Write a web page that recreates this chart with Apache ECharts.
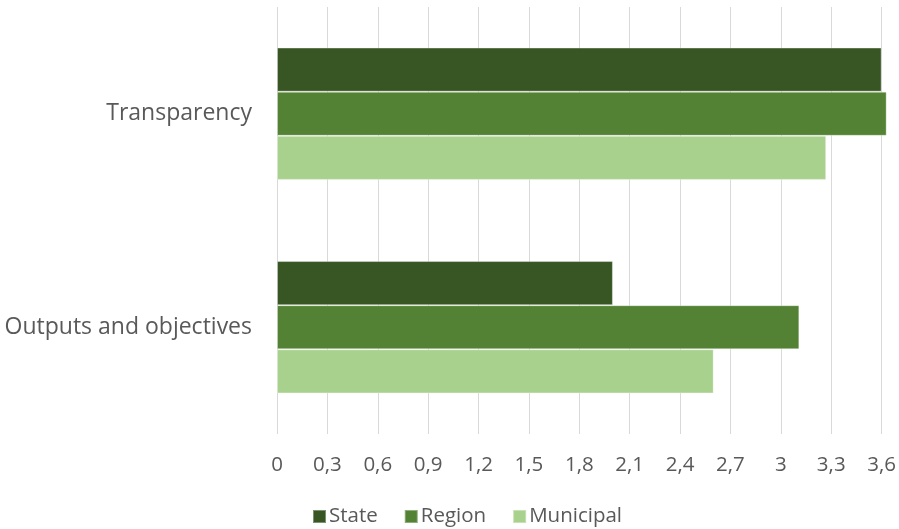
<!DOCTYPE html>
<html><head><meta charset="utf-8">
<script src="https://cdn.jsdelivr.net/npm/echarts@6/dist/echarts.min.js"></script>
<style>html,body{margin:0;padding:0;background:#fff}#c{width:899px;height:529px}</style>
</head><body><div id="c"></div>
<script>
const categories = ['Transparency', 'Outputs and objectives'];
const seriesNames = ['State', 'Region', 'Municipal'];
const stateValues = [3.6, 2.0];
const regionValues = [3.63, 3.11];
const municipalValues = [3.27, 2.6];
const colors = ['#375623', '#548235', '#A9D18E'];
const FONT = 'Open Sans';
const chart = echarts.init(document.getElementById('c'));
const values = [stateValues, regionValues, municipalValues];
chart.setOption({
  animation: false,
  textStyle: { fontFamily: FONT },
  grid: { left: 277, right: 15, top: 7, bottom: 95, containLabel: false },
  legend: {
    bottom: -3, left: 307, itemWidth: 13, itemHeight: 13, itemGap: 26,
    icon: 'rect',
    textStyle: { fontSize: 20.5, color: '#595959', fontFamily: FONT, padding: [0, 0, 0, -2] },
    data: seriesNames
  },
  xAxis: {
    type: 'value', min: 0, max: 3.6, interval: 0.3,
    axisLine: { show: false }, axisTick: { show: false },
    splitLine: { lineStyle: { color: '#d9d9d9', width: 1 } },
    axisLabel: { fontSize: 20.5, color: '#595959', margin: 21, fontFamily: FONT,
      formatter: v => String(Math.round(v * 10) / 10).replace('.', ',') }
  },
  yAxis: {
    type: 'category', data: categories, inverse: true,
    axisLine: { show: false }, axisTick: { show: false },
    axisLabel: { fontSize: 23, color: '#595959', margin: 25, fontFamily: FONT }
  },
  series: seriesNames.map((n, i) => ({
    name: n, type: 'bar', data: values[i], clip: false,
    barGap: '0%', barCategoryGap: '38%',
    itemStyle: { color: colors[i], borderColor: 'rgba(255,255,255,0.35)', borderWidth: 1 }
  }))
});
</script></body></html>
